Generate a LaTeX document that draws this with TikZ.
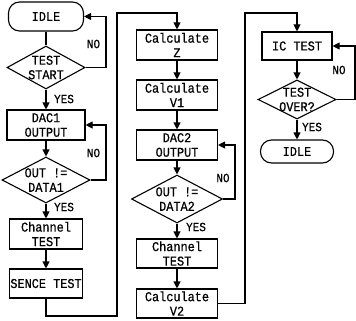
\documentclass[tikz,border=0pt]{standalone}
\usepackage{fontspec}
\setmainfont{Liberation Mono}[FakeStretch=0.88,FakeBold=0.6]
\usetikzlibrary{shapes.geometric,arrows.meta}
\begin{document}
\begin{tikzpicture}[x=1pt,y=-1pt,
  font=\fontsize{13.5}{14.5}\selectfont,
  line width=1.1pt,
  every node/.style={inner sep=0pt},
  box/.style={draw,rectangle,align=center},
  pill/.style={draw,rectangle,rounded corners=11pt,align=center},
  dia/.style={draw,diamond},
  txt/.style={align=center},
  lbl/.style={font=\fontsize{12.5}{13}\selectfont},
  arr/.style={-{Triangle[length=7pt,width=7pt]}}]
\useasboundingbox (0,0) rectangle (356,321);
% column 1
\node[pill,minimum width=75pt,minimum height=29pt] (idle1) at (46,16.5) {IDLE};
\node[dia,minimum width=78pt,minimum height=43pt] (d1) at (46,67.5) {};
\node[txt] (t1) at (46,67.5) {TEST\\START};
\node[box,minimum width=78pt,minimum height=30pt] (dac1) at (46,125) {DAC1\\OUTPUT};
\node[dia,minimum width=88pt,minimum height=46pt] (d2) at (46,180) {};
\node[txt] (t2) at (46,180) {OUT !=\\DATA1};
\node[box,minimum width=73pt,minimum height=30pt] (ch1) at (46,234) {Channel\\TEST};
\node[box,minimum width=73pt,minimum height=29pt] (sence) at (46,283.5) {SENCE TEST};
% column 2
\node[box,minimum width=81pt,minimum height=30pt] (calcz) at (177,45) {Calculate\\Z};
\node[box,minimum width=81pt,minimum height=30pt] (calcv1) at (177,95) {Calculate\\V1};
\node[box,minimum width=81pt,minimum height=30pt] (dac2) at (177,145) {DAC2\\OUTPUT};
\node[dia,minimum width=91pt,minimum height=48pt] (d3) at (177,199) {};
\node[txt] (t3) at (177,199) {OUT !=\\DATA2};
\node[box,minimum width=81pt,minimum height=29pt] (ch2) at (177,253.5) {Channel\\TEST};
\node[box,minimum width=81pt,minimum height=29pt] (calcv2) at (177,303.5) {Calculate\\V2};
% column 3
\node[box,minimum width=70pt,minimum height=28pt] (ictest) at (297,46) {IC TEST};
\node[dia,minimum width=78pt,minimum height=39pt] (d4) at (297,99.5) {};
\node[txt] (t4) at (297,99.5) {TEST\\OVER?};
\node[pill,minimum width=73pt,minimum height=23pt] (idle2) at (297,151.5) {IDLE};
% labels
\node[lbl] (no1) at (93.5,44) {NO};
\node[lbl] (yes1) at (64,99) {YES};
\node[lbl] (no2) at (93.5,153) {NO};
\node[lbl] (yes2) at (64,207) {YES};
\node[lbl] (no3) at (223,178) {NO};
\node[lbl] (yes3) at (196,227) {YES};
\node[lbl] (no4) at (339,70) {NO};
\node[lbl] (yes4) at (312,127) {YES};
% coordinates
\coordinate (r1a) at (106,67.5);
\coordinate (r1b) at (106,16.5);
\coordinate (r2a) at (106,180);
\coordinate (r2b) at (106,125);
\coordinate (c1a) at (46,316);
\coordinate (c1b) at (117,316);
\coordinate (c1c) at (117,13);
\coordinate (c1d) at (177,13);
\coordinate (r3a) at (235,199);
\coordinate (r3b) at (235,145);
\coordinate (c2a) at (245,303.5);
\coordinate (c2b) at (245,13);
\coordinate (c2c) at (297,13);
\coordinate (r4a) at (355,99.5);
\coordinate (r4b) at (355,46);
% connectors
\draw (idle1.south) -- (d1.north);
\draw[arr] (d1.south) -- (dac1.north);
\draw[arr] (d1.east) -- (r1a) -- (r1b) -- (idle1.east);
\draw[arr] (dac1.south) -- (d2.north);
\draw[arr] (d2.east) -- (r2a) -- (r2b) -- (dac1.east);
\draw[arr] (d2.south) -- (ch1.north);
\draw[arr] (ch1.south) -- (sence.north);
\draw[arr] (sence.south) -- (c1a) -- (c1b) -- (c1c) -- (c1d) -- (calcz.north);
\draw[arr] (calcz.south) -- (calcv1.north);
\draw[arr] (calcv1.south) -- (dac2.north);
\draw[arr] (dac2.south) -- (d3.north);
\draw[arr] (d3.east) -- (r3a) -- (r3b) -- (dac2.east);
\draw[arr] (d3.south) -- (ch2.north);
\draw[arr] (ch2.south) -- (calcv2.north);
\draw[arr] (calcv2.east) -- (c2a) -- (c2b) -- (c2c) -- (ictest.north);
\draw[arr] (ictest.south) -- (d4.north);
\draw[arr] (d4.east) -- (r4a) -- (r4b) -- (ictest.east);
\draw[arr] (d4.south) -- (idle2.north);
\end{tikzpicture}
\end{document}
